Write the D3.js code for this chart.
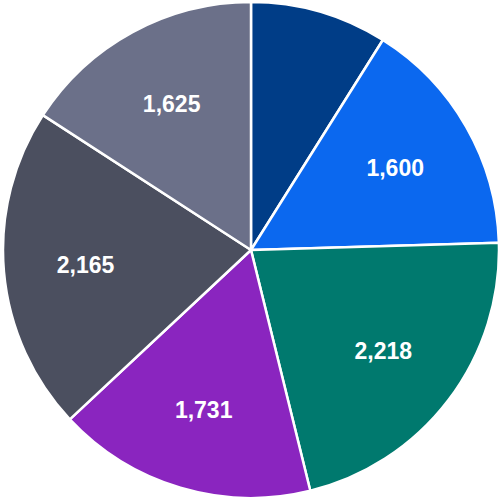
<!DOCTYPE html>
<html><head><meta charset="utf-8">
<script src="https://cdn.jsdelivr.net/npm/d3@7"></script>
<style>html,body{margin:0;padding:0;background:#fff;}svg{display:block;}</style>
</head><body>
<script>
const categories = ["A", "B", "C", "D", "E", "F"];
const values = [915, 1600, 2218, 1731, 2165, 1625];
const colors = ["#003d87", "#0b68ef", "#00796e", "#8a25bf", "#4b4f5f", "#6b7089"];
const showLabel = [false, true, true, true, true, true];

const W = 501, H = 499, cx = 251, cy = 250, R = 248;
const svg = d3.select("body").append("svg").attr("width", W).attr("height", H);
const g = svg.append("g").attr("transform", `translate(${cx},${cy})`);
const data = categories.map((c, i) => ({c, v: values[i], i}));
const pie = d3.pie().value(d => d.v).sort(null);
const arc = d3.arc().innerRadius(0).outerRadius(R);
const labelArc = d3.arc().innerRadius(R * 0.67).outerRadius(R * 0.67);
const arcs = pie(data);
g.selectAll("path").data(arcs).join("path")
  .attr("d", arc).attr("fill", d => colors[d.data.i])
  .attr("stroke", "#fff").attr("stroke-width", 2.5).attr("stroke-linejoin", "round");
g.selectAll("text").data(arcs.filter(d => showLabel[d.data.i])).join("text")
  .attr("transform", d => `translate(${labelArc.centroid(d)})`)
  .attr("text-anchor", "middle").attr("dy", "0.36em")
  .attr("fill", "#fff").attr("font-family", "Arial, 'Liberation Sans', sans-serif")
  .attr("font-weight", "bold").attr("font-size", 23)
  .text(d => d3.format(",")(d.data.v));
</script>
</body></html>
